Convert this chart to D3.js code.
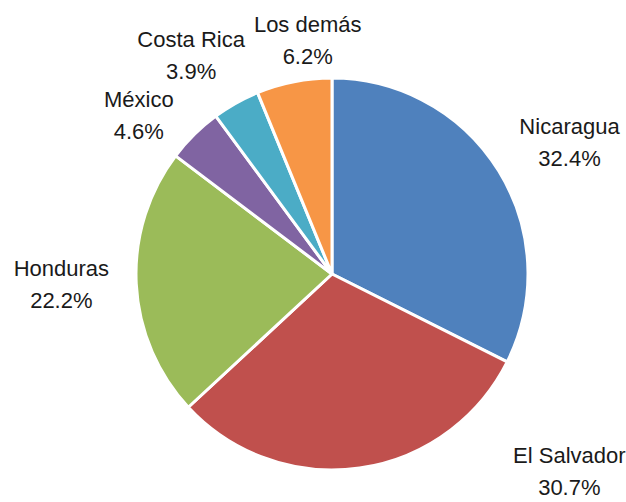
<!DOCTYPE html>
<html>
<head>
<meta charset="utf-8">
<script src="https://cdn.jsdelivr.net/npm/d3@7"></script>
<style>
  body { margin: 0; background: #fff; }
  text { font-family: "Liberation Sans", Arial, sans-serif; }
</style>
</head>
<body>
<svg width="626" height="502"></svg>
<script>
var countries = ["Nicaragua", "El Salvador", "Honduras", "México", "Costa Rica", "Los demás"];
var shares = [32.4, 30.7, 22.2, 4.6, 3.9, 6.2];
var colors = ["#4f81bd", "#c0504d", "#9bbb59", "#8064a2", "#4bacc6", "#f79646"];

// label nudges from the label-arc centroid (layout only)
var nudge = [[12, -1], [200, -73], [-6, -11], [-7, 22], [-11, 4], [27, 18]];

var svg = d3.select("svg"),
    cx = 332, cy = 274, radius = 196,
    g = svg.append("g").attr("transform", "translate(" + cx + "," + cy + ")");

var data = countries.map(function(c, i) { return {name: c, value: shares[i], i: i}; });

var pie = d3.pie()
    .sort(null)
    .value(function(d) { return d.value; });

var arc = d3.arc().innerRadius(0).outerRadius(radius);
var labelArc = d3.arc().innerRadius(265).outerRadius(265);

var arcs = pie(data);

g.selectAll("path")
    .data(arcs)
  .enter().append("path")
    .attr("d", arc)
    .attr("fill", function(d) { return colors[d.data.i]; })
    .attr("stroke", "#fff")
    .attr("stroke-width", 3)
    .attr("stroke-linejoin", "round");

var label = g.selectAll(".label")
    .data(arcs)
  .enter().append("text")
    .attr("class", "label")
    .attr("text-anchor", "middle")
    .attr("font-size", 22)
    .attr("fill", "#1a1a1a")
    .attr("transform", function(d) {
      var c = labelArc.centroid(d), n = nudge[d.data.i];
      return "translate(" + (c[0] + n[0]) + "," + (c[1] + n[1]) + ")";
    });

label.append("tspan")
    .attr("x", 0)
    .text(function(d) { return d.data.name; });

label.append("tspan")
    .attr("x", 0)
    .attr("dy", 32)
    .text(function(d) { return d.data.value.toFixed(1) + "%"; });
</script>
</body>
</html>
